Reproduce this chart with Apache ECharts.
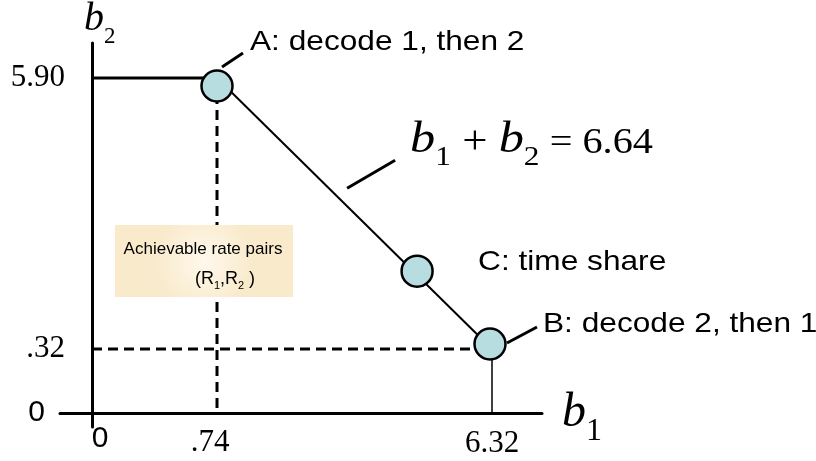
<!DOCTYPE html>
<html>
<head>
<meta charset="utf-8">
<script src="https://cdn.jsdelivr.net/npm/echarts@6/dist/echarts.min.js"></script>
<style>
  html, body { margin: 0; padding: 0; background: #ffffff; }
  #c { width: 816px; height: 461px; }
</style>
</head>
<body>
<div id="c"></div>
<script>
// ---------------- data ----------------
const xTicks = [0, 0.74, 6.32];
const xTickLabels = ['0', '.74', '6.32'];
const yTicks = [0, 0.32, 5.90];
const yTickLabels = ['0', '.32', '5.90'];
const pointNames = ['A', 'C', 'B'];
const pointB1 = [0.74, 4.80, 6.32];
const pointB2 = [5.90, 1.84, 0.32];
const pointLabels = ['A: decode 1, then 2', 'C: time share', 'B: decode 2, then 1'];
const sumRate = 6.64;
const regionText = 'Achievable rate pairs';

// ---------------- schematic (non-to-scale) axis layout ----------------
const xAnchors = [0, 1.25, 4.00];
const yAnchors = [0, 0.64, 3.35];
function warp(v, ticks, anchors) {
  let i = 0;
  while (i < ticks.length - 2 && v > ticks[i + 1]) i++;
  const t0 = ticks[i], t1 = ticks[i + 1], a0 = anchors[i], a1 = anchors[i + 1];
  return a0 + (v - t0) * (a1 - a0) / (t1 - t0);
}
const wx = v => warp(v, xTicks, xAnchors);
const wy = v => warp(v, yTicks, yAnchors);
const P = (b1, b2) => [wx(b1), wy(b2)];

const A = P(pointB1[0], pointB2[0]);
const B = P(pointB1[2], pointB2[2]);

const serif = '"Liberation Serif", "Times New Roman", serif';
const sans = '"Liberation Sans", Arial, sans-serif';

const chart = echarts.init(document.getElementById('c'), null, { renderer: 'canvas', width: 816, height: 461 });

function lineSeries(data, width, type) {
  return {
    type: 'line', data: data, symbol: 'none', silent: true, animation: false,
    lineStyle: { color: '#000', width: width, type: type || 'solid' }, z: 2
  };
}

const symbolShift = [[0, 8], [0, -4], [-2, -5]];

const option = {
  backgroundColor: '#ffffff',
  animation: false,
  grid: { left: 60, right: 274, top: 43, bottom: 34, containLabel: false, outerBoundsMode: 'none' },
  xAxis: {
    type: 'value', min: -0.32, max: 4.50,
    axisLine: { onZero: true, lineStyle: { color: '#000', width: 3 } },
    axisTick: { show: false }, splitLine: { show: false },
    axisLabel: {
      customValues: xTicks.map(wx),
      margin: -3,
      formatter: function (val) {
        const i = xTicks.findIndex(t => Math.abs(wx(t) - val) < 1e-6);
        if (i < 0) return '';
        if (xTickLabels[i] === '0') return '{s|0}';
        return (i === 1 ? '{u|' : '{t|') + xTickLabels[i] + '}';
      },
      rich: {
        s: { fontFamily: sans, fontSize: 30, color: '#000', padding: [0, 0, 0, 16] },
        t: { fontFamily: serif, fontSize: 31, color: '#000', padding: [4, 0, 0, 0] },
        u: { fontFamily: serif, fontSize: 31, color: '#000', padding: [3, 14, 0, 0] }
      }
    },
    name: '{b|b}{s|1}', nameLocation: 'end', nameGap: 20,
    nameTextStyle: {
      align: 'left', verticalAlign: 'middle', padding: [22, 0, 0, 0],
      rich: {
        b: { fontFamily: serif, fontStyle: 'italic', fontSize: 48, color: '#000', verticalAlign: 'bottom', lineHeight: 48, padding: [0, 0, 11, 0] },
        s: { fontFamily: serif, fontSize: 32, color: '#000', verticalAlign: 'bottom', lineHeight: 32 }
      }
    }
  },
  yAxis: {
    type: 'value', min: -0.14, max: 3.70,
    axisLine: { onZero: true, lineStyle: { color: '#000', width: 3 } },
    axisTick: { show: false }, splitLine: { show: false },
    axisLabel: {
      customValues: yTicks.map(wy),
      margin: -5,
      formatter: function (val) {
        const i = yTicks.findIndex(t => Math.abs(wy(t) - val) < 1e-6);
        if (i < 0) return '';
        return yTickLabels[i] === '0' ? '{s|0}' : '{t|' + yTickLabels[i] + '}';
      },
      rich: {
        s: { fontFamily: sans, fontSize: 30, color: '#000', padding: [0, 20, 0, 0] },
        t: { fontFamily: serif, fontSize: 31, color: '#000' }
      }
    },
    name: '{b|b}{s|2}', nameLocation: 'end', nameGap: -5,
    nameTextStyle: {
      align: 'left', padding: [0, 0, 0, -8],
      rich: {
        b: { fontFamily: serif, fontStyle: 'italic', fontSize: 40, color: '#000', verticalAlign: 'bottom', lineHeight: 40, padding: [0, 0, 9, 0] },
        s: { fontFamily: serif, fontSize: 23, color: '#000', verticalAlign: 'bottom', lineHeight: 23 }
      }
    }
  },
  series: [
    lineSeries([P(0, pointB2[0]), A], 3),
    lineSeries([A, B], 2),
    lineSeries([A, P(pointB1[0], 0)], 3, [10, 6]),
    lineSeries([P(0, pointB2[2]), B], 3, [10, 6]),
    lineSeries([B, P(pointB1[2], 0)], 1.5),
    {
      type: 'scatter', animation: false, silent: true, z: 5,
      symbol: 'circle', symbolSize: 31,
      itemStyle: { color: '#b8dde1', borderColor: '#000', borderWidth: 2.5, opacity: 1 },
      data: pointNames.map((n, i) => ({ name: n, value: P(pointB1[i], pointB2[i]), symbolOffset: symbolShift[i] }))
    }
  ]
};
chart.setOption(option);

// ---------------- annotations (labels, leader lines, equation, region box) ----------------
const px = pointNames.map((n, i) => chart.convertToPixel({ gridIndex: 0 }, P(pointB1[i], pointB2[i])));
const pA = px[0], pB = px[2];
const midB1 = 3.36, midB2 = sumRate - 3.36;
const pM = chart.convertToPixel({ gridIndex: 0 }, P(midB1, midB2));

const labelOffsets = [[33, -36], [61, -13], [51, -25]];
const leaderStyle = { stroke: '#000', lineWidth: 3 };
const graphics = [
  { type: 'line', shape: { x1: pA[0] + 5, y1: pA[1] - 11, x2: pA[0] + 26, y2: pA[1] - 25 }, style: leaderStyle, z: 10 },
  { type: 'line', shape: { x1: pB[0] + 15, y1: pB[1] - 6, x2: pB[0] + 45, y2: pB[1] - 22 }, style: leaderStyle, z: 10 },
  { type: 'line', shape: { x1: pM[0] + 1, y1: pM[1] - 17, x2: pM[0] + 49, y2: pM[1] - 45 }, style: leaderStyle, z: 10 },
  {
    type: 'text', x: pM[0] + 64, y: pM[1] - 34, scaleX: 1.12, z: 10,
    style: {
      x: 0, y: 0, align: 'left', verticalAlign: 'bottom',
      text: '{bi|b}{sub|1}{pl| + }{bi|b}{sub|2}{eq| = ' + sumRate.toFixed(2) + '}',
      rich: {
        bi: { font: 'italic 45px "Liberation Serif"', fill: '#000', verticalAlign: 'bottom', lineHeight: 45, padding: [0, 0, 9, 0] },
        sub: { font: '28px "Liberation Serif"', fill: '#000', verticalAlign: 'bottom', lineHeight: 28 },
        pl: { font: '40px "Liberation Serif"', fill: '#000', verticalAlign: 'bottom', lineHeight: 40, padding: [0, 0, 9, 0] },
        eq: { font: '36px "Liberation Serif"', fill: '#000', verticalAlign: 'bottom', lineHeight: 36, padding: [0, 0, 10, 0] }
      }
    }
  },
  {
    type: 'rect', shape: { x: 115, y: 225, width: 178, height: 72 }, z: 50,
    style: {
      fill: {
        type: 'radial', x: 0.5, y: 0.5, r: 0.7,
        colorStops: [{ offset: 0, color: '#fff8ec' }, { offset: 1, color: '#f8eacb' }]
      }
    }
  },
  {
    type: 'text', x: 203, y: 249, z: 51,
    style: { text: regionText, fontFamily: sans, fontSize: 17, fill: '#000', align: 'center', verticalAlign: 'middle' }
  },
  {
    type: 'text', x: 225, y: 281, z: 51,
    style: {
      text: '{n|(R}{s|1}{n|,R}{s|2}{n| )}', align: 'center', verticalAlign: 'middle',
      rich: {
        n: { fontFamily: sans, fontSize: 18, fill: '#000', verticalAlign: 'bottom', lineHeight: 20, padding: [0, 0, 3, 0] },
        s: { fontFamily: sans, fontSize: 11, fill: '#000', verticalAlign: 'bottom', lineHeight: 13 }
      }
    }
  }
];
pointLabels.forEach((t, i) => {
  graphics.push({
    type: 'text', x: px[i][0] + labelOffsets[i][0], y: px[i][1] + labelOffsets[i][1], scaleX: 1.13, z: 10,
    style: { x: 0, y: 0, text: t, fontFamily: sans, fontSize: 28, fill: '#000', align: 'left', verticalAlign: 'middle' }
  });
});
chart.setOption({ graphic: graphics });
</script>
</body>
</html>
